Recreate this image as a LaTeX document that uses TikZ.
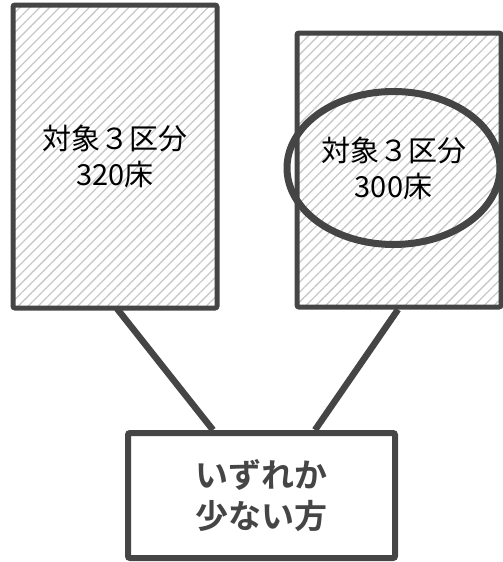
\documentclass[tikz,border=0pt]{standalone}
\usepackage{fontspec}
\newfontfamily\jp{Noto Sans CJK JP}[BoldFont={Noto Sans CJK JP Bold}]
\usetikzlibrary{shapes.geometric,patterns.meta,calc}
\definecolor{edge}{HTML}{454545}
\definecolor{hatch}{HTML}{C8C8C8}
\begin{document}
\begin{tikzpicture}[x=1pt,y=-1pt,
  hatched/.style={draw=edge,line width=5pt,rounded corners=2pt,
    pattern={Lines[angle=45,distance=7pt,line width=1.3pt]},pattern color=hatch,
    inner sep=0pt,align=center,font=\jp\fontsize{29}{36}\selectfont},
  result/.style={draw=edge,line width=6pt,rounded corners=2pt,fill=white,
    inner sep=0pt,align=center,text=edge,font=\jp\bfseries\fontsize{33}{41}\selectfont},
  oval/.style={ellipse,draw=edge,line width=7pt,inner sep=0pt,align=center,
    font=\jp\fontsize{29}{36}\selectfont},
  link/.style={draw=edge,line width=6.5pt}]
\useasboundingbox (0,0) rectangle (503,562);
\node[hatched,minimum width=204pt,minimum height=303pt] (L) at (115,156.5) {対象３区分\\320床};
\node[hatched,minimum width=204pt,minimum height=274pt] (R) at (399,170) {};
\node[oval,minimum width=213pt,minimum height=153pt] (E) at (393.5,168) {対象３区分\\300床};
\node[result,minimum width=267pt,minimum height=125pt] (B) at (261.5,495.5) {いずれか\\少ない方};
\draw[link] ([xshift=2pt]L.south) -- ([xshift=-48.5pt]B.north);
\draw[link] ([xshift=-1pt]R.south) -- ([xshift=53.5pt]B.north);
\end{tikzpicture}
\end{document}
